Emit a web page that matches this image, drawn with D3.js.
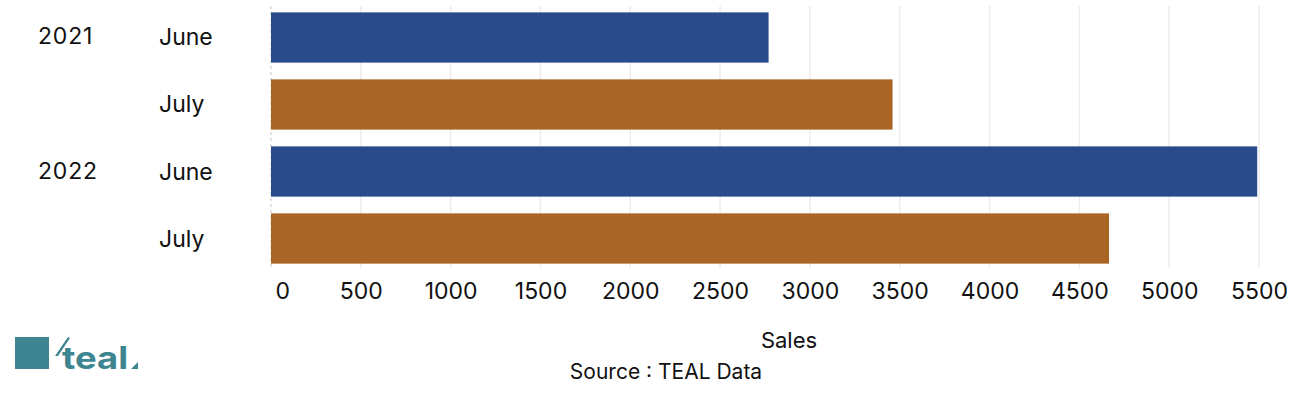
<!DOCTYPE html>
<html>
<head>
<meta charset="utf-8">
<script src="https://cdn.jsdelivr.net/npm/d3@7"></script>
<style>
  html, body { margin: 0; padding: 0; background: #ffffff; }
  svg { display: block; }
  text { font-family: Inter, "Noto Sans", sans-serif; fill: #111; }
</style>
</head>
<body>
<svg id="chart" width="1308" height="397"></svg>
<script>
// ---- data ----
const years = ["2021", "2021", "2022", "2022"];
const months = ["June", "July", "June", "July"];
const sales = [2770, 3460, 5490, 4665];
const xTicks = [0, 500, 1000, 1500, 2000, 2500, 3000, 3500, 4000, 4500, 5000, 5500];
const monthColors = { June: "#2a4b8b", July: "#aa6524" };
const xTitle = "Sales";
const sourceText = "Source : TEAL Data";

const rows = years.map((y, i) => ({ key: y + "-" + months[i], year: y, month: months[i], value: sales[i] }));

const svg = d3.select("#chart");
const FONT = 'Inter, "Noto Sans", sans-serif';

const x = d3.scaleLinear().domain([0, 5500]).range([271, 1259]);
const y = d3.scaleBand().domain(rows.map(d => d.key)).range([5, 271]).paddingInner(0.25).paddingOuter(0.11);

// gridlines
svg.append("g").selectAll("line").data(xTicks.filter(t => t > 0)).join("line")
  .attr("x1", d => x(d)).attr("x2", d => x(d))
  .attr("y1", 6).attr("y2", 268)
  .attr("stroke", "#ececec").attr("stroke-width", 1.5);

// zero line dashed
svg.append("line")
  .attr("x1", x(0)).attr("x2", x(0)).attr("y1", 6).attr("y2", 268)
  .attr("stroke", "#cfcfcf").attr("stroke-width", 1.2).attr("stroke-dasharray", "3,3");

// bars
svg.append("g").selectAll("rect").data(rows).join("rect")
  .attr("x", x(0))
  .attr("y", d => y(d.key))
  .attr("width", d => x(d.value) - x(0))
  .attr("height", y.bandwidth())
  .attr("fill", d => monthColors[d.month]);

// month labels
svg.append("g").selectAll("text").data(rows).join("text")
  .attr("x", 159)
  .attr("y", d => y(d.key) + y.bandwidth() / 2 + 8)
  .attr("font-size", 23)
  .text(d => d.month);

// year labels (first row of each year)
const firstRows = rows.filter((d, i) => i === 0 || rows[i - 1].year !== d.year);
svg.append("g").selectAll("text").data(firstRows).join("text")
  .attr("x", 38)
  .attr("y", d => y(d.key) + y.bandwidth() / 2 + 7)
  .attr("font-size", 23)
  .attr("letter-spacing", 0.8)
  .text(d => d.year);

// x axis
const axis = d3.axisBottom(x).tickValues(xTicks).tickSize(0).tickPadding(0).tickFormat(d3.format("d"));
const gx = svg.append("g").attr("transform", "translate(0,283)").call(axis);
gx.select(".domain").remove();
gx.selectAll("text")
  .attr("font-size", 23)
  .attr("fill", "#111")
  .style("font-family", FONT);
gx.selectAll(".tick").filter(d => d === 0).select("text").attr("text-anchor", "start").attr("dx", 4);

// axis title
svg.append("text").attr("x", 789).attr("y", 348)
  .attr("text-anchor", "middle").attr("font-size", 22).text(xTitle);

// source
svg.append("text").attr("x", 666).attr("y", 379)
  .attr("text-anchor", "middle").attr("font-size", 21).text(sourceText);

// logo
const logo = svg.append("g");
logo.append("rect").attr("x", 15).attr("y", 337).attr("width", 34).attr("height", 32).attr("fill", "#3d8590");
logo.append("path").attr("d", "M55,356 L68,337 L70,338 L58,356 Z").attr("fill", "#3d8590");
logo.append("text").attr("x", 62).attr("y", 369).attr("font-size", 31).attr("font-weight", 700)
  .attr("textLength", 66).attr("lengthAdjust", "spacingAndGlyphs")
  .style("fill", "#3d8590").text("teal");
logo.append("path").attr("d", "M131,369 L138,362 L138,369 Z").attr("fill", "#3d8590");
</script>
</body>
</html>
